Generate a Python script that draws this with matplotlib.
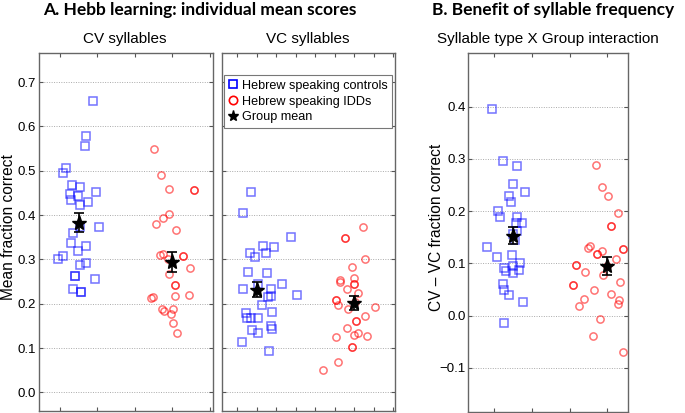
import numpy as np
import matplotlib
matplotlib.use("Agg")
import matplotlib.pyplot as plt
from matplotlib.lines import Line2D

plt.rcParams['font.family'] = ['Liberation Sans', 'DejaVu Sans']

# ---- data ----
# CV syllables
cv_ctrl_x = [1.89, 1.69, 1.67, 1.16, 1.07, 1.32, 1.54, 1.27, 1.48, 1.96, 1.29, 1.75, 1.53,
             2.04, 1.53, 1.35, 1.29, 1.70, 1.49, 1.07, 0.94, 1.54, 1.69, 1.41, 1.41,
             1.93, 1.35, 1.56, 1.56]
cv_ctrl_y = [0.658, 0.579, 0.555, 0.507, 0.495, 0.468, 0.463, 0.447, 0.443, 0.453, 0.435, 0.429, 0.423,
             0.374, 0.373, 0.359, 0.337, 0.330, 0.319, 0.307, 0.300, 0.287, 0.292, 0.263, 0.263,
             0.256, 0.234, 0.227, 0.227]
cv_idd_x = [3.52, 3.70, 3.90, 4.57, 4.57, 3.92, 3.76, 3.55, 4.10, 3.68, 3.75, 4.28, 4.28,
            3.89, 4.47, 3.92, 4.06, 4.06, 4.06, 4.43, 3.44, 3.49, 3.71, 3.78, 3.95,
            4.02, 4.01, 4.12]
cv_idd_y = [0.548, 0.491, 0.459, 0.457, 0.457, 0.403, 0.393, 0.379, 0.367, 0.310, 0.312, 0.308, 0.308,
            0.302, 0.281, 0.268, 0.243, 0.243, 0.217, 0.220, 0.213, 0.216, 0.189, 0.183, 0.176,
            0.187, 0.156, 0.133]
cv_mean = [0.383, 0.294]
cv_sem = [0.021, 0.023]

# VC syllables
vc_ctrl_x = [1.35, 1.16, 2.39, 1.67, 1.95, 1.33, 1.75, 1.45, 1.28, 1.77, 1.54, 1.16, 1.87,
             2.15, 2.54, 1.80, 1.87, 1.64, 1.90, 1.23, 1.24, 1.35, 1.53, 1.87, 1.90,
             1.39, 1.53, 1.12, 1.82]
vc_ctrl_y = [0.453, 0.405, 0.350, 0.330, 0.328, 0.315, 0.315, 0.305, 0.272, 0.269, 0.245, 0.234, 0.233,
             0.244, 0.220, 0.215, 0.217, 0.198, 0.181, 0.178, 0.168, 0.168, 0.168, 0.149, 0.144,
             0.140, 0.135, 0.113, 0.093]
vc_idd_x = [4.21, 3.76, 3.76, 4.26, 3.93, 3.62, 3.64, 3.99, 3.99, 3.99, 3.81, 4.09, 3.53, 3.53,
            3.59, 3.83, 4.54, 4.27, 4.05, 4.05, 3.80, 4.10, 3.98, 4.32, 3.52, 3.94, 3.94,
            3.57, 3.20, 4.02]
vc_idd_y = [0.374, 0.348, 0.348, 0.300, 0.283, 0.253, 0.249, 0.257, 0.245, 0.245, 0.234, 0.224, 0.208, 0.208,
            0.197, 0.189, 0.193, 0.173, 0.161, 0.161, 0.146, 0.133, 0.129, 0.127, 0.125, 0.103, 0.103,
            0.069, 0.050, 0.205]
vc_mean = [0.232, 0.202]
vc_sem = [0.016, 0.016]

# CV - VC difference
d_ctrl_x = [0.95, 1.22, 1.61, 1.50, 1.81, 1.39, 1.45, 1.11, 1.14, 1.61, 1.74, 1.58, 1.61,
            1.56, 0.81, 1.06, 1.48, 1.68, 1.26, 1.50, 1.32, 1.65, 1.49, 1.24, 1.25,
            1.40, 1.76, 1.27, 1.50]
d_ctrl_y = [0.396, 0.295, 0.287, 0.251, 0.237, 0.229, 0.217, 0.201, 0.189, 0.188, 0.178, 0.177, 0.162,
            0.145, 0.131, 0.113, 0.116, 0.101, 0.091, 0.095, 0.085, 0.088, 0.082, 0.060, 0.048,
            0.039, 0.026, -0.015, 0.157]
d_idd_x = [3.69, 3.85, 4.01, 4.29, 4.09, 4.09, 3.54, 3.48, 3.86, 4.41, 4.41, 3.73, 3.73, 4.22,
           3.17, 3.17, 3.99, 3.42, 3.88, 3.10, 3.10, 4.34, 3.64, 4.09, 3.39, 4.32, 4.27,
           3.24, 3.81, 3.63, 4.41]
d_idd_y = [0.288, 0.247, 0.228, 0.196, 0.171, 0.171, 0.134, 0.129, 0.124, 0.127, 0.127, 0.118, 0.118, 0.109,
           0.097, 0.097, 0.095, 0.084, 0.077, 0.058, 0.058, 0.064, 0.048, 0.041, 0.031, 0.030, 0.022,
           0.018, -0.007, -0.040, -0.069]
d_mean = [0.153, 0.095]
d_sem = [0.016, 0.018]

group_x = [1.5, 4.0]
legend_labels = ['Hebrew speaking controls', 'Hebrew speaking IDDs', 'Group mean']

BLUE = (0, 0, 1, 0.55)
RED = (1, 0, 0, 0.55)
W, H = 685, 413

fig = plt.figure(figsize=(6.85, 4.13), dpi=100)


def px_axes(x0, x1, y0, y1):
    return fig.add_axes([x0 / W, 1 - y1 / H, (x1 - x0) / W, (y1 - y0) / H])


def style(ax, yticks, ylim, xticks, xlim, labels=True):
    ax.set_ylim(ylim)
    ax.set_xlim(xlim)
    ax.set_xticks(xticks)
    ax.set_xticklabels([])
    ax.set_yticks(yticks)
    if labels:
        ax.set_yticklabels([f"{v:.1f}".replace('-', '\u2212') for v in yticks])
    else:
        ax.set_yticklabels([])
    ax.tick_params(direction='in', top=True, right=True, length=3, width=0.8,
                   color='#555555', labelsize=9.5, pad=2)
    for s in ax.spines.values():
        s.set_color('#666666')
        s.set_linewidth(1.0)
    for v in yticks:
        ax.axhline(v, color='#aaaaaa', lw=0.7, ls=(0, (1, 1.5)), zorder=0)


def draw(ax, cx, cy, ix, iy, mean, sem):
    ax.plot(cx, cy, ls='none', marker='s', ms=5.2, mfc='none', mec=BLUE, mew=1.1)
    ax.plot(ix, iy, ls='none', marker='o', ms=5.2, mfc='none', mec=RED, mew=1.1)
    ax.errorbar(group_x, mean, yerr=sem, fmt='none', ecolor='k', elinewidth=1.2,
                capsize=3.5, capthick=1.2, zorder=4)
    ax.plot(group_x, mean, ls='none', marker='*', ms=11, color='k', zorder=5)


yt = [0.0, 0.1, 0.2, 0.3, 0.4, 0.5, 0.6, 0.7]

ax1 = px_axes(39, 213, 53.3, 411)
draw(ax1, cv_ctrl_x, cv_ctrl_y, cv_idd_x, cv_idd_y, cv_mean, cv_sem)
style(ax1, yt, (-0.042, 0.765), [1, 2, 3, 4, 5], (0.44, 5.08))

ax2 = px_axes(222.3, 395, 53.3, 411)
draw(ax2, vc_ctrl_x, vc_ctrl_y, vc_idd_x, vc_idd_y, vc_mean, vc_sem)
style(ax2, yt, (-0.042, 0.765), [1, 1.5, 2, 2.5, 3, 3.5, 4, 4.5, 5], (0.62, 5.04), labels=False)

handles = [Line2D([], [], ls='none', marker='s', ms=6, mfc='none', mec='b', mew=1.2),
           Line2D([], [], ls='none', marker='o', ms=6, mfc='none', mec='r', mew=1.2),
           Line2D([], [], ls='none', marker='*', ms=8, color='k')]
leg = ax2.legend(handles, legend_labels, loc='upper left', bbox_to_anchor=(0.008, 0.938),
                 borderaxespad=0, fontsize=9.1, fancybox=False, framealpha=1,
                 edgecolor='#777777', handlelength=0.8, handletextpad=0.3,
                 labelspacing=0.3, borderpad=0.35)
leg.get_frame().set_linewidth(0.8)

ax3 = px_axes(468.3, 627.7, 53.3, 411.7)
draw(ax3, d_ctrl_x, d_ctrl_y, d_idd_x, d_idd_y, d_mean, d_sem)
style(ax3, [-0.1, 0.0, 0.1, 0.2, 0.3, 0.4], (-0.184, 0.502), [1, 2, 3, 4], (0.31, 4.54))

# y labels placed where the reference has them
fig.text(8.5 / W, 1 - 227 / H, 'Mean fraction correct', rotation=90, ha='center',
         va='center', fontsize=11.2)
fig.text(436 / W, 1 - 227.5 / H, 'CV \u2013 VC fraction correct', rotation=90, ha='center',
         va='center', fontsize=11.2)

# titles
fig.text(200 / W, 1 - 15.5 / H, 'A. Hebb learning: individual mean scores', ha='center',
         va='baseline', fontsize=12.5, fontweight='bold', family=['Lato', 'DejaVu Sans'])
fig.text(553 / W, 1 - 15.5 / H, 'B. Benefit of syllable frequency', ha='center',
         va='baseline', fontsize=12.5, fontweight='bold', family=['Lato', 'DejaVu Sans'])
fig.text(125 / W, 1 - 43 / H, 'CV syllables', ha='center', va='baseline', fontsize=11)
fig.text(308 / W, 1 - 43 / H, 'VC syllables', ha='center', va='baseline', fontsize=11)
fig.text(548 / W, 1 - 43 / H, 'Syllable type X Group interaction', ha='center',
         va='baseline', fontsize=11)

fig.savefig('out.png', dpi=100)
